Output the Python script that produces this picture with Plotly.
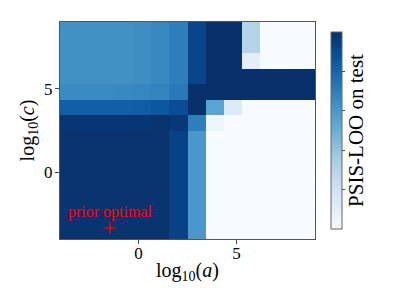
import numpy as np
import plotly.express as px
import plotly.graph_objects as go

# grid edges for log10(a) and log10(c)
a_edges = np.linspace(-4, 9, 15)
c_edges = np.linspace(-4, 9, 15)

# PSIS-LOO on test (normalised), rows listed from top (c=9) to bottom (c=-4)
loo_rows_top_down = [
    [0.63, 0.63, 0.63, 0.63, 0.64, 0.66, 0.70, 0.92, 1.00, 1.00, 0.31, 0.00, 0.00, 0.00],
    [0.63, 0.63, 0.63, 0.63, 0.64, 0.66, 0.70, 0.92, 1.00, 1.00, 0.31, 0.00, 0.00, 0.00],
    [0.63, 0.63, 0.63, 0.63, 0.64, 0.66, 0.70, 0.92, 1.00, 1.00, 0.10, 0.00, 0.00, 0.00],
    [0.63, 0.63, 0.63, 0.63, 0.64, 0.66, 0.70, 0.92, 1.00, 1.00, 1.00, 1.00, 1.00, 1.00],
    [0.65, 0.65, 0.65, 0.66, 0.67, 0.68, 0.72, 1.00, 1.00, 1.00, 1.00, 1.00, 1.00, 1.00],
    [0.82, 0.82, 0.82, 0.82, 0.83, 0.85, 0.89, 1.00, 0.55, 0.13, 0.00, 0.00, 0.00, 0.00],
    [0.98, 0.98, 0.98, 0.98, 0.98, 0.99, 0.97, 0.70, 0.05, 0.00, 0.00, 0.00, 0.00, 0.00],
    [0.99, 0.99, 0.99, 0.99, 0.99, 0.99, 0.93, 0.60, 0.00, 0.00, 0.00, 0.00, 0.00, 0.00],
    [0.99, 0.99, 0.99, 0.99, 0.99, 0.99, 0.93, 0.60, 0.00, 0.00, 0.00, 0.00, 0.00, 0.00],
    [0.99, 0.99, 0.99, 0.99, 0.99, 0.99, 0.93, 0.60, 0.00, 0.00, 0.00, 0.00, 0.00, 0.00],
    [0.99, 0.99, 0.99, 0.99, 0.99, 0.99, 0.93, 0.60, 0.00, 0.00, 0.00, 0.00, 0.00, 0.00],
    [0.99, 0.99, 0.99, 0.99, 0.99, 0.99, 0.93, 0.60, 0.00, 0.00, 0.00, 0.00, 0.00, 0.00],
    [0.99, 0.99, 0.99, 0.99, 0.99, 0.99, 0.93, 0.60, 0.00, 0.00, 0.00, 0.00, 0.00, 0.00],
    [0.99, 0.99, 0.99, 0.99, 0.99, 0.99, 0.93, 0.60, 0.00, 0.00, 0.00, 0.00, 0.00, 0.00],
]

prior_a = [-1.45]
prior_c = [-3.35]
prior_label = "prior optimal"

serif = "Liberation Serif, Times New Roman, serif"

fig = go.Figure()
fig.add_trace(go.Heatmap(
    x=a_edges, y=c_edges, z=loo_rows_top_down[::-1],
    colorscale=px.colors.sequential.Blues, zmin=0, zmax=1,
    colorbar=dict(
        x=1.063, xanchor='left', xpad=0, y=0.5, yanchor='middle',
        len=1, thickness=11, outlinewidth=1, outlinecolor='#666',
        tickvals=[0.2, 0.4, 0.6, 0.8], showticklabels=False,
        ticks='outside', ticklen=3, tickcolor='#444',
        title=dict(text='PSIS-LOO on test', side='right',
                   font=dict(family=serif, size=21, color='black')),
    ),
    hoverinfo='skip',
))
fig.add_trace(go.Scatter(
    x=prior_a, y=prior_c, mode='markers',
    marker=dict(symbol='cross-thin', size=8, line=dict(color='red', width=1.4)),
    showlegend=False,
))
fig.add_annotation(x=prior_a[0], y=prior_c[0], text=prior_label, showarrow=False,
                   yshift=16, font=dict(family=serif, size=16, color='red'))

axis = dict(range=[-4, 9], showline=True, mirror=True, linecolor='#555', linewidth=1,
            ticks='outside', ticklen=4, tickcolor='#444', showgrid=False, zeroline=False,
            tickvals=[0, 5], tickfont=dict(family=serif, size=17, color='black'))
fig.update_xaxes(**axis, ticklabelstandoff=-5,
                 title=dict(text='log<sub>10</sub>(<i>a</i>)', standoff=0,
                            font=dict(family=serif, size=20, color='black')))
fig.update_yaxes(**axis, ticklabelstandoff=-1,
                 title=dict(text='log<sub>10</sub>(<i>c</i>)', standoff=4,
                            font=dict(family=serif, size=20, color='black')))
# page body adds 8px, so margins are shifted to keep the plot box in place
fig.update_layout(
    width=399, height=299, margin=dict(l=52, r=92, t=14, b=68),
    paper_bgcolor='white', plot_bgcolor='white',
)
fig.write_html("out.html")
